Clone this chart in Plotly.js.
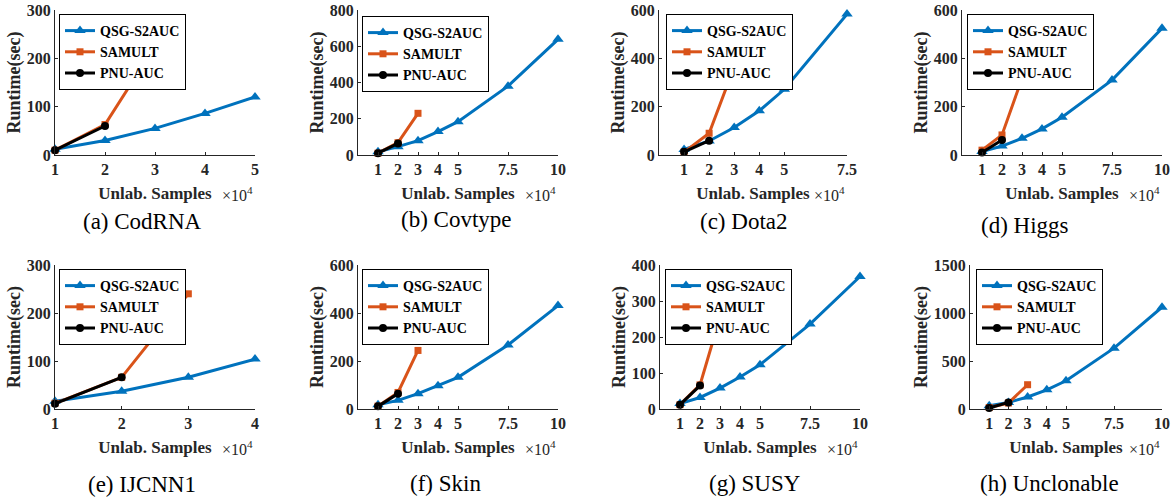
<!DOCTYPE html>
<html>
<head>
<meta charset="utf-8">
<script src="https://cdn.plot.ly/plotly-3.0.1.min.js"></script>
<style>html,body{margin:0;padding:0;background:#fff;}#chart{width:1172px;height:501px;}</style>
</head>
<body>
<div id="chart"></div>
<script>
// ---- data ----
const seriesNames = ["QSG-S2AUC", "SAMULT", "PNU-AUC"];
const datasetNames = ["(a) CodRNA", "(b) Covtype", "(c) Dota2", "(d) Higgs", "(e) IJCNN1", "(f) Skin", "(g) SUSY", "(h) Unclonable"];

const xCodRNA = [1, 2, 3, 4, 5];
const xFull = [1, 2, 3, 4, 5, 7.5, 10];
const xDota2 = [1, 2, 3, 4, 5, 7.5];
const xIJCNN1 = [1, 2, 3, 4];
const xSamult = [1, 2, 3];
const xPnu = [1, 2];

const qsgCodRNA = [12, 30, 55, 86, 120];
const qsgCovtype = [18, 46, 79, 129, 184, 380, 638];
const qsgDota2 = [23, 58, 114, 183, 272, 583];
const qsgHiggs = [14, 37, 69, 108, 156, 310, 524];
const qsgIJCNN1 = [16, 37, 66, 104];
const qsgSkin = [18, 36, 64, 97, 132, 267, 431];
const qsgSUSY = [15, 32, 58, 89, 123, 236, 368];
const qsgUnclonable = [35, 69, 125, 200, 294, 634, 1060];

const samCodRNA = [10, 63, 225];
const samCovtype = [10, 68, 230];
const samDota2 = [12, 90, 365];
const samHiggs = [20, 83, 317];
const samIJCNN1 = [12, 66, 240];
const samSkin = [12, 69, 244];
const samSUSY = [12, 67, 255];
const samUnclonable = [15, 62, 253];

const pnuCodRNA = [10, 60];
const pnuCovtype = [10, 64];
const pnuDota2 = [13, 59];
const pnuHiggs = [10, 62];
const pnuIJCNN1 = [11, 66];
const pnuSkin = [11, 64];
const pnuSUSY = [12, 65];
const pnuUnclonable = [10, 69];

const xTicksCodRNA = [1, 2, 3, 4, 5];
const xTicksFull = [1, 2, 3, 4, 5, 7.5, 10];
const xTicksDota2 = [1, 2, 3, 4, 5, 7.5];
const xTicksIJCNN1 = [1, 2, 3, 4];

const yMax = [300, 800, 600, 600, 300, 600, 400, 1500];
const yDtick = [100, 200, 200, 200, 100, 200, 100, 500];

// ---- panels ----
const panels = [
  {qx: xCodRNA, q: qsgCodRNA, s: samCodRNA, p: pnuCodRNA, ticks: xTicksCodRNA, xr: [1, 5]},
  {qx: xFull, q: qsgCovtype, s: samCovtype, p: pnuCovtype, ticks: xTicksFull, xr: [0, 10]},
  {qx: xDota2, q: qsgDota2, s: samDota2, p: pnuDota2, ticks: xTicksDota2, xr: [0, 7.5]},
  {qx: xFull, q: qsgHiggs, s: samHiggs, p: pnuHiggs, ticks: xTicksFull, xr: [0, 10]},
  {qx: xIJCNN1, q: qsgIJCNN1, s: samIJCNN1, p: pnuIJCNN1, ticks: xTicksIJCNN1, xr: [1, 4]},
  {qx: xFull, q: qsgSkin, s: samSkin, p: pnuSkin, ticks: xTicksFull, xr: [0, 10]},
  {qx: xFull, q: qsgSUSY, s: samSUSY, p: pnuSUSY, ticks: xTicksFull, xr: [0, 10]},
  {qx: xFull, q: qsgUnclonable, s: samUnclonable, p: pnuUnclonable, ticks: xTicksFull, xr: [0, 10]}
];

// pixel layout
const W = 1172, H = 501;
const xPix = [[55, 255], [358, 558], [659, 847], [962, 1162], [55, 255], [358, 558], [660, 860], [970, 1162]];
const yPixTop = [[10, 155], [265, 409]];
const legendPix = [[59, 14], [362, 16], [666, 14], [967, 14], [59, 269], [362, 269], [665, 269], [976, 269]];
const captionPix = [[142, 222], [456, 219], [744, 221], [1025, 225], [142, 484], [445, 483], [755, 483], [1049, 483]];

const FONT = "Liberation Serif";
const AXC = "#262626";
const colors = ["#0072BD", "#D95319", "#000000"];
const symbols = ["triangle-up", "square", "circle"];
const msizes = [10, 7, 8];

const data = [];
const layout = {
  width: W, height: H,
  margin: {l: 0, r: 0, t: 0, b: 0},
  paper_bgcolor: "#ffffff", plot_bgcolor: "#ffffff",
  font: {family: FONT, color: AXC},
  showlegend: true,
  annotations: []
};

panels.forEach((pn, i) => {
  const k = i === 0 ? "" : String(i + 1);
  const xa = "x" + k, ya = "y" + k;
  const lg = "legend" + k;
  const xs = [pn.qx, xSamult, xPnu];
  const ys = [pn.q, pn.s, pn.p];
  for (let j = 0; j < 3; j++) {
    data.push({
      type: "scatter", mode: "lines+markers",
      x: xs[j], y: ys[j], name: seriesNames[j],
      xaxis: xa, yaxis: ya, legend: lg,
      cliponaxis: false,
      line: {color: colors[j], width: 3},
      marker: {symbol: symbols[j], size: msizes[j], color: colors[j]}
    });
  }
  const row = i < 4 ? 0 : 1;
  const [x0, x1] = xPix[i];
  const [yt, yb] = yPixTop[row];
  layout["xaxis" + k] = {
    domain: [x0 / W, x1 / W], anchor: ya, range: pn.xr,
    tickmode: "array", tickvals: pn.ticks, ticktext: pn.ticks.map(String),
    showline: true, linecolor: AXC, linewidth: 1, mirror: false,
    ticks: "inside", ticklen: 3, tickcolor: AXC,
    showgrid: false, zeroline: false,
    tickfont: {family: FONT, size: 16, color: AXC, weight: "bold"},
    title: {text: "Unlab. Samples", font: {family: FONT, size: 17, color: AXC, weight: "bold"}, standoff: 9},
    automargin: false, fixedrange: true
  };
  layout["yaxis" + k] = {
    domain: [1 - yb / H, 1 - yt / H], anchor: xa, range: [0, yMax[i]],
    dtick: yDtick[i], tick0: 0,
    showline: true, linecolor: AXC, linewidth: 1, mirror: false,
    ticks: "inside", ticklen: 3, tickcolor: AXC,
    showgrid: false, zeroline: false,
    tickfont: {family: FONT, size: 16, color: AXC, weight: "bold"},
    title: {text: "Runtime(sec)", font: {family: FONT, size: 18, color: AXC, weight: "bold"}, standoff: 1},
    automargin: false, fixedrange: true
  };
  layout[lg] = {
    x: legendPix[i][0] / W, y: 1 - legendPix[i][1] / H,
    xanchor: "left", yanchor: "top", xref: "paper", yref: "paper",
    bgcolor: "#ffffff", bordercolor: "#000000", borderwidth: 1,
    font: {family: FONT, size: 14, color: "#000000", weight: "bold"},
    tracegroupgap: 0, itemwidth: 30
  };
  layout.annotations.push({
    xref: "paper", yref: "paper", x: x1 / W, y: 1 - (yb + 39) / H,
    xanchor: "right", yanchor: "middle", showarrow: false,
    text: "×10<sup>4</sup>", font: {family: FONT, size: 16, color: AXC}
  });
  layout.annotations.push({
    xref: "paper", yref: "paper", x: captionPix[i][0] / W, y: 1 - captionPix[i][1] / H,
    xanchor: "center", yanchor: "middle", showarrow: false,
    text: datasetNames[i], font: {family: FONT, size: 23, color: "#000000"}
  });
});

Plotly.newPlot("chart", data, layout, {displayModeBar: false, staticPlot: true});
</script>
</body>
</html>
